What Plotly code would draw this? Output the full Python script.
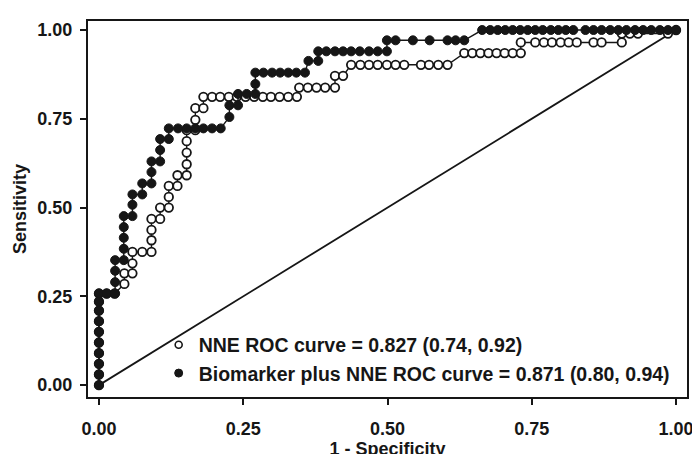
import plotly.graph_objects as go

# ---- data ----
nne_fpr = [0, 0, 0, 0, 0, 0, 0, 0, 0, 0,
           0.013, 0.027, 0.044, 0.044, 0.058, 0.058, 0.058, 0.075, 0.091, 0.091,
           0.091, 0.091, 0.106, 0.106, 0.121, 0.121, 0.121, 0.136, 0.136, 0.152,
           0.152, 0.152, 0.152, 0.152, 0.167, 0.167, 0.167, 0.181, 0.181, 0.196,
           0.21, 0.225, 0.239, 0.254, 0.269, 0.284, 0.298, 0.313, 0.328, 0.343,
           0.347, 0.362, 0.377, 0.392, 0.409, 0.409, 0.423, 0.437, 0.453, 0.468,
           0.483, 0.499, 0.514, 0.529, 0.558, 0.572, 0.588, 0.604, 0.633, 0.647,
           0.661, 0.675, 0.689, 0.703, 0.717, 0.731, 0.731, 0.756, 0.771, 0.785,
           0.8, 0.814, 0.828, 0.857, 0.871, 0.906, 0.906, 0.92, 0.934, 0.986, 1.0]
nne_tpr = [0, 0.03, 0.06, 0.09, 0.12, 0.15, 0.18, 0.21, 0.235, 0.258,
           0.258, 0.258, 0.285, 0.315, 0.315, 0.343, 0.375, 0.375, 0.375, 0.408,
           0.437, 0.468, 0.468, 0.5, 0.5, 0.53, 0.561, 0.561, 0.591, 0.591,
           0.622, 0.655, 0.687, 0.718, 0.718, 0.747, 0.78, 0.78, 0.812, 0.812,
           0.812, 0.812, 0.812, 0.812, 0.812, 0.812, 0.812, 0.812, 0.812, 0.812,
           0.838, 0.838, 0.838, 0.838, 0.838, 0.871, 0.871, 0.902, 0.902, 0.902,
           0.902, 0.902, 0.902, 0.902, 0.902, 0.902, 0.902, 0.902, 0.935, 0.935,
           0.935, 0.935, 0.935, 0.935, 0.935, 0.935, 0.965, 0.965, 0.965, 0.965,
           0.965, 0.965, 0.965, 0.965, 0.965, 0.965, 0.99, 0.99, 0.99, 0.99, 1.0]

bio_fpr = [0, 0, 0, 0, 0, 0, 0, 0, 0, 0,
           0.014, 0.028, 0.028, 0.028, 0.028, 0.043, 0.043, 0.043, 0.043, 0.043,
           0.058, 0.058, 0.058, 0.075, 0.075, 0.091, 0.091, 0.091, 0.106, 0.106,
           0.106, 0.121, 0.121, 0.137, 0.152, 0.167, 0.181, 0.196, 0.211, 0.226,
           0.226, 0.241, 0.241, 0.256, 0.271, 0.271, 0.271, 0.285, 0.3, 0.314,
           0.328, 0.342, 0.357, 0.363, 0.38, 0.38, 0.394, 0.409, 0.423, 0.437,
           0.452, 0.468, 0.483, 0.499, 0.499, 0.514, 0.544, 0.573, 0.604, 0.618,
           0.633, 0.664, 0.678, 0.691, 0.704, 0.717, 0.73, 0.743, 0.756, 0.769,
           0.783, 0.796, 0.809, 0.822, 0.843, 0.857, 0.871, 0.886, 0.9, 0.914,
           0.929, 0.943, 0.957, 0.972, 0.986, 1.0]
bio_tpr = [0, 0.03, 0.06, 0.09, 0.12, 0.15, 0.18, 0.21, 0.235, 0.258,
           0.258, 0.258, 0.29, 0.322, 0.352, 0.352, 0.384, 0.415, 0.445, 0.476,
           0.476, 0.508, 0.537, 0.537, 0.568, 0.568, 0.6, 0.63, 0.63, 0.662,
           0.693, 0.693, 0.723, 0.723, 0.723, 0.723, 0.723, 0.723, 0.723, 0.755,
           0.788, 0.788, 0.82, 0.82, 0.82, 0.848, 0.88, 0.88, 0.88, 0.88,
           0.88, 0.88, 0.88, 0.913, 0.913, 0.94, 0.94, 0.94, 0.94, 0.94,
           0.94, 0.94, 0.94, 0.94, 0.971, 0.971, 0.971, 0.971, 0.971, 0.971,
           0.971, 1.0, 1.0, 1.0, 1.0, 1.0, 1.0, 1.0, 1.0, 1.0,
           1.0, 1.0, 1.0, 1.0, 1.0, 1.0, 1.0, 1.0, 1.0, 1.0,
           1.0, 1.0, 1.0, 1.0, 1.0, 1.0]

diag_x = [0, 1]
diag_y = [0, 1]

legend_labels = ["NNE ROC curve = 0.827 (0.74, 0.92)",
                 "Biomarker plus NNE ROC curve = 0.871 (0.80, 0.94)"]
tick_vals = [0, 0.25, 0.5, 0.75, 1.0]
tick_text = ["0.00", "0.25", "0.50", "0.75", "1.00"]
x_title = "1 - Specificity"
y_title = "Sensitivity"

INK = "#161616"
FONT = dict(family="Liberation Sans, Arial, sans-serif", size=18, color=INK, weight="bold")
LEG_FONT = dict(FONT, size=19.5)

fig = go.Figure()

fig.add_trace(go.Scatter(x=diag_x, y=diag_y, mode="lines",
                         line=dict(color=INK, width=1.8), showlegend=False, hoverinfo="skip"))

fig.add_trace(go.Scatter(x=nne_fpr, y=nne_tpr, mode="lines+markers",
                         line=dict(color=INK, width=1.4),
                         marker=dict(symbol="circle", size=8.5, color="white",
                                     line=dict(color=INK, width=1.8)),
                         showlegend=False))

fig.add_trace(go.Scatter(x=bio_fpr, y=bio_tpr, mode="lines+markers",
                         line=dict(color=INK, width=1.4),
                         marker=dict(symbol="circle", size=9, color=INK,
                                     line=dict(color=INK, width=1.0)),
                         showlegend=False))

# legend-only entries
fig.add_trace(go.Scatter(x=[None], y=[None], mode="markers", name=legend_labels[0],
                         marker=dict(symbol="circle", size=7, color="white",
                                     line=dict(color=INK, width=1.6)),
                         legendgroup="a"))
fig.add_trace(go.Scatter(x=[None], y=[None], mode="markers", name=legend_labels[1],
                         marker=dict(symbol="circle", size=8, color=INK,
                                     line=dict(color=INK, width=1.0)),
                         legendgroup="b"))

axis_common = dict(
    tickmode="array", tickvals=tick_vals, ticktext=tick_text,
    ticks="outside", ticklen=6, tickwidth=1.5, tickcolor=INK,
    showline=True, linewidth=2, linecolor=INK, mirror=True,
    showgrid=False, zeroline=False, tickfont=FONT,
)

fig.update_layout(
    width=700, height=454, autosize=False,
    margin=dict(l=77, r=21, t=11, b=47, pad=0),
    paper_bgcolor="white", plot_bgcolor="white",
    font=FONT,
    xaxis=dict(range=[-0.019, 1.019], title=dict(text=x_title, font=FONT, standoff=0),
               ticklabelstandoff=8, **axis_common),
    yaxis=dict(range=[-0.0334, 1.0254], title=dict(text=y_title, font=FONT, standoff=6),
               ticklabelstandoff=4, **axis_common),
    legend=dict(x=0.118, y=0.19, xanchor="left", yanchor="top",
                bgcolor="rgba(0,0,0,0)", borderwidth=0,
                font=LEG_FONT, itemwidth=30, tracegroupgap=2,
                traceorder="normal"),
    showlegend=True,
)

fig.write_html("out.html")
